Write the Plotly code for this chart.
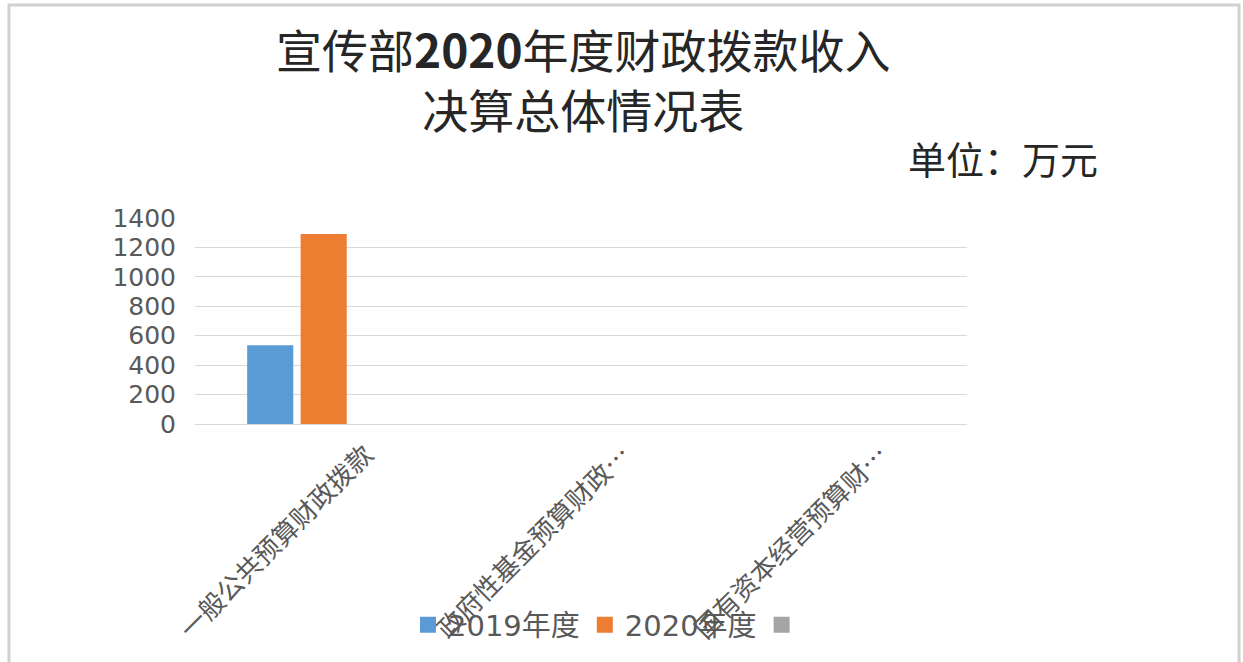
import plotly.graph_objects as go

categories = ["一般公共预算财政拨款", "政府性基金预算财政…", "国有资本经营预算财…"]
series_names = ["2019年度", "2020年度", " "]
values_2019 = [536, 0, 0]
values_2020 = [1292, 0, 0]
values_3 = [None, None, None]
colors = ["#5B9BD5", "#ED7D31", "#A5A5A5"]
y_ticks = [0, 200, 400, 600, 800, 1000, 1200, 1400]

W, H = 1243, 662
L, R, T, B = 195, 1243 - 967, 218, 662 - 424
pw, ph = W - L - R, H - T - B

def px_x(x):
    return (x - L) / pw

def px_y(y):
    return (H - B - y) / ph

fig = go.Figure()
for name, vals, c in zip(series_names, [values_2019, values_2020, values_3], colors):
    fig.add_trace(go.Bar(x=categories, y=vals, name=name, marker_color=c,
                         marker_line_width=0, showlegend=False, legendgroup=name))
# legend entries with larger square swatches
for name, c in zip(series_names, colors):
    fig.add_trace(go.Scatter(x=[categories[0]], y=[None], mode="markers", name=name,
                             legendgroup=name,
                             marker=dict(symbol="square", size=22, color=c)))

font_cjk = "Noto Sans CJK SC"
font_num = "DejaVu Sans, Noto Sans CJK SC"
fig.update_layout(
    width=W, height=H,
    margin=dict(l=L, r=R, t=T, b=B, autoexpand=False),
    paper_bgcolor="white", plot_bgcolor="white",
    barmode="group", bargap=0.377, bargroupgap=0.137,
    showlegend=True,
    legend=dict(orientation="h", x=px_x(612), xanchor="center", y=px_y(625), yanchor="middle",
                font=dict(family=font_num, size=29, color="#595959"),
                bgcolor="rgba(0,0,0,0)", itemwidth=30, tracegroupgap=0,
                itemsizing="trace"),
    font=dict(family=font_cjk, color="#595959"),
    xaxis=dict(tickangle=-45, tickfont=dict(family=font_cjk, size=26, color="#595959"),
               showline=True, linecolor="#D9D9D9", linewidth=1, ticks="",
               ticklabelshift=42, ticklabelstandoff=4,
               automargin=False, fixedrange=True),
    yaxis=dict(range=[0, 1400], tickvals=y_ticks, showgrid=True, gridcolor="#D9D9D9",
               gridwidth=1, zeroline=False, showline=False, ticks="",
               tickfont=dict(family="DejaVu Sans", size=25, color="#595959"),
               ticklabelstandoff=18, automargin=False),
    annotations=[
        dict(text="宣传部<b>2020</b>年度财政拨款收入<br>决算总体情况表", x=0.503, xref="paper",
             xanchor="center", y=px_y(78), yref="paper", yanchor="middle", showarrow=False,
             font=dict(family=font_cjk, size=46, color="#262626")),
        dict(text="单位：万元", x=px_x(1100), xref="paper", xanchor="right",
             y=px_y(158), yref="paper", yanchor="middle", showarrow=False,
             font=dict(family=font_cjk, size=38, color="#262626")),
    ],
    shapes=[
        dict(type="rect", xref="paper", yref="paper", x0=px_x(9), x1=px_x(1239),
             y0=px_y(700), y1=px_y(5), line=dict(color="#D0D0D0", width=3), layer="below"),
    ],
)

fig.write_html("out.html")
